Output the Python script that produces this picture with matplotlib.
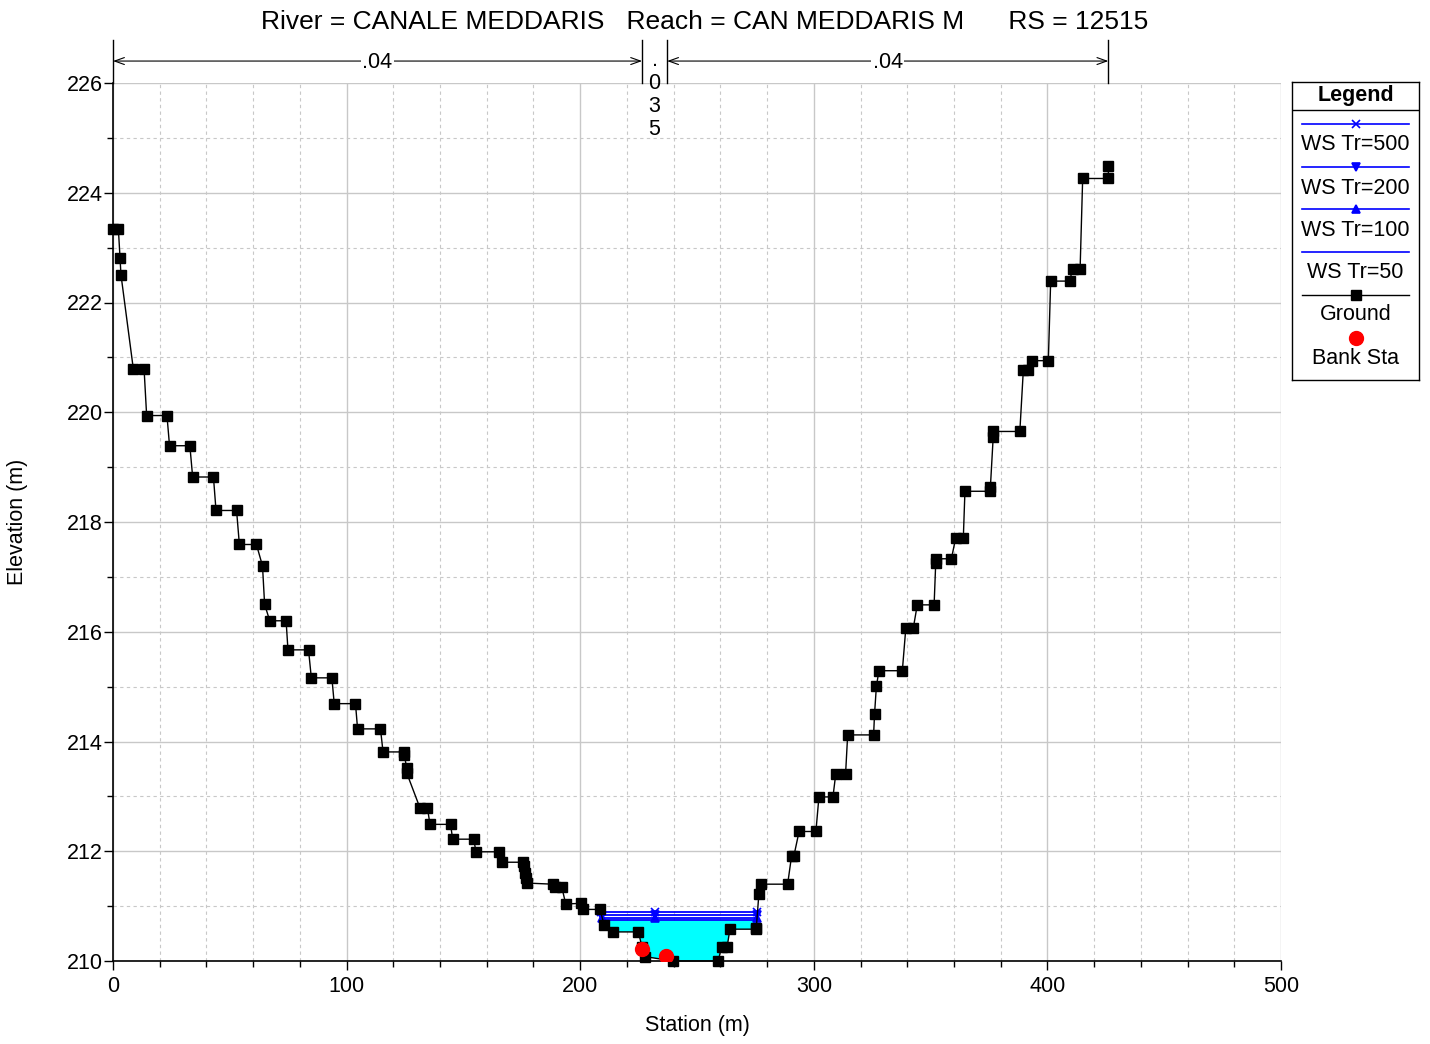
import numpy as np
import matplotlib.pyplot as plt
from matplotlib.ticker import MultipleLocator

plt.rcParams['font.family'] = ['Liberation Sans', 'DejaVu Sans']

# cross section ground points (station m, elevation m)
station = [0.0, 2.3, 3.0, 3.4, 8.7, 13.3, 14.4, 23.1, 24.2, 32.9,
           34.1, 43.0, 44.1, 52.9, 54.1, 61.4, 64.0, 64.9, 67.1, 74.1,
           74.9, 83.7, 84.9, 93.7, 94.7, 103.8, 104.7, 114.5, 115.6, 124.5,
           124.7, 125.7, 125.8, 131.4, 134.6, 135.7, 144.5, 145.4, 154.4, 155.4,
           165.2, 166.4, 175.6, 176.0, 176.4, 176.8, 177.3, 188.2, 189.1, 192.1,
           193.8, 200.2, 201.3, 208.5, 210.2, 213.9, 224.9, 226.5, 227.7, 239.9,
           259.1, 260.5, 262.9, 264.1, 275.3, 275.4, 276.5, 277.3, 288.8, 290.5,
           291.5, 293.7, 300.9, 302.2, 308.2, 309.4, 313.6, 314.5, 325.6, 326.0,
           326.8, 327.9, 337.9, 339.4, 342.6, 344.3, 351.5, 352.2, 352.3, 358.9,
           360.7, 364.0, 364.7, 375.4, 375.6, 376.8, 376.8, 388.2, 389.7, 391.8,
           393.3, 400.4, 401.4, 409.5, 410.8, 414.0, 415.1, 426.1, 426.1]
elevation = [223.34, 223.34, 222.82, 222.51, 220.79, 220.79, 219.94, 219.94, 219.39, 219.39,
             218.82, 218.82, 218.21, 218.21, 217.59, 217.59, 217.20, 216.50, 216.20, 216.20,
             215.67, 215.67, 215.16, 215.16, 214.69, 214.69, 214.23, 214.23, 213.81, 213.81,
             213.76, 213.52, 213.42, 212.79, 212.79, 212.49, 212.49, 212.22, 212.22, 211.99,
             211.99, 211.80, 211.80, 211.73, 211.61, 211.52, 211.42, 211.40, 211.35, 211.35,
             211.04, 211.05, 210.94, 210.94, 210.66, 210.53, 210.53, 210.25, 210.08, 210.00,
             210.00, 210.26, 210.26, 210.58, 210.58, 210.61, 211.23, 211.40, 211.40, 211.92,
             211.92, 212.36, 212.36, 212.99, 212.99, 213.41, 213.41, 214.12, 214.12, 214.50,
             215.01, 215.29, 215.29, 216.07, 216.07, 216.49, 216.49, 217.26, 217.33, 217.33,
             217.70, 217.70, 218.56, 218.56, 218.64, 219.55, 219.65, 219.65, 220.77, 220.77,
             220.94, 220.94, 222.39, 222.39, 222.61, 222.61, 224.26, 224.26, 224.49]

ws_labels = ['WS Tr=500', 'WS Tr=200', 'WS Tr=100', 'WS Tr=50']
ws_elev = [210.89, 210.84, 210.79, 210.74]
ws_markers = ['x', 'v', '^', None]

bank_sta = [226.6, 236.7]
bank_elev = [210.22, 210.09]

n_breaks = [0.0, 226.5, 237.2, 426.1]
n_values = ['.04', '.035', '.04']

title = 'River = CANALE MEDDARIS   Reach = CAN MEDDARIS M      RS = 12515'

st = np.array(station)
el = np.array(elevation)


def ws_extent(z):
    i = int(np.argmin(el))
    while el[i] < z:
        i -= 1
    xl = np.interp(z, [el[i + 1], el[i]], [st[i + 1], st[i]])
    j = int(np.argmin(el))
    while el[j] < z:
        j += 1
    xr = np.interp(z, [el[j - 1], el[j]], [st[j - 1], st[j]])
    return xl, xr, i, j


FS = 15.5
W, H = 1430, 1044
fig = plt.figure(figsize=(W / 100, H / 100), dpi=100)
ax = fig.add_axes([113 / W, 1 - 961 / H, (1281 - 113) / W, (961 - 83) / H])

# water fill (lowest profile)
xl, xr, i, j = ws_extent(ws_elev[-1])
ax.fill([xl] + list(st[i + 1:j]) + [xr], [ws_elev[-1]] + list(el[i + 1:j]) + [ws_elev[-1]],
        color='#00ffff', lw=0, zorder=1)

mid = (n_breaks[1] + n_breaks[2]) / 2
for z, m in zip(ws_elev, ws_markers):
    xl, xr, _, _ = ws_extent(z)
    ax.plot([xl, xr], [z, z], color='#0000ff', lw=1.3, zorder=2)
    if m:
        ax.plot([xl, mid, xr], [z, z, z], ls='none', marker=m, color='#0000ff',
                ms=6, mew=1.2, zorder=2)

ax.plot(st, el, color='black', lw=1, marker='s', ms=6.5, zorder=3, clip_on=False)
ax.plot(bank_sta, bank_elev, ls='none', marker='o', color='red', ms=10, zorder=4)

ax.set_xlim(0, 500)
ax.set_ylim(210, 226)
ax.xaxis.set_major_locator(MultipleLocator(100))
ax.xaxis.set_minor_locator(MultipleLocator(20))
ax.yaxis.set_major_locator(MultipleLocator(2))
ax.yaxis.set_minor_locator(MultipleLocator(1))
ax.grid(which='major', color='#c8c8c8', lw=1, ls='-')
ax.grid(which='minor', color='#c8c8c8', lw=0.8, ls=(0, (3, 3)))
ax.set_axisbelow(True)
ax.tick_params(which='major', direction='out', length=6.5, width=1, labelsize=FS)
ax.tick_params(axis='y', which='major', pad=1)
ax.tick_params(axis='x', which='major', pad=4)
ax.tick_params(which='minor', direction='out', length=4, width=1)
for s in ['top', 'right']:
    ax.spines[s].set_visible(False)
for s in ['left', 'bottom']:
    ax.spines[s].set_linewidth(1.2)

# manning n bar above the plot
for b in n_breaks:
    ax.plot([b, b], [226.0, 226.78], color='black', lw=1, clip_on=False)
for k, v in enumerate(n_values):
    a, b = n_breaks[k], n_breaks[k + 1]
    c = (a + b) / 2
    if b - a > 50:
        ax.annotate('', xy=(a, 226.40), xytext=(b, 226.40), annotation_clip=False,
                    arrowprops=dict(arrowstyle='<->,head_length=0.7,head_width=0.25',
                                    color='black', lw=0.8, shrinkA=0, shrinkB=0))
        ax.text(c, 226.38, v, ha='center', va='center', fontsize=FS, clip_on=False,
                bbox=dict(facecolor='white', edgecolor='none', pad=1))
    else:
        ax.text(c, 226.60, '\n'.join(v), ha='center', va='top', fontsize=FS,
                linespacing=1.13, clip_on=False)

fig.text(705 / W, 1 - 22 / H, title, ha='center', va='center', fontsize=19)
fig.text(697 / W, 1 - 1026 / H, 'Station (m)', ha='center', va='center', fontsize=FS)
fig.text(18 / W, 1 - 522 / H, 'Elevation (m)', ha='center', va='center', fontsize=FS, rotation=90)

# legend box
lg = fig.add_axes([1292 / W, 1 - 380 / H, 127 / W, 298 / H])
lg.set_xlim(0, 127)
lg.set_ylim(298, 0)
lg.set_xticks([])
lg.set_yticks([])
for s in lg.spines.values():
    s.set_linewidth(1)
lg.text(63.5, 14, 'Legend', ha='center', va='center', fontsize=FS, fontweight='bold')
lg.plot([0, 127], [28, 28], color='black', lw=1)
rows = [42, 85, 127, 170]
for y, lab, m in zip(rows, ws_labels, ws_markers):
    lg.plot([10, 117], [y, y], color='#0000ff', lw=1.2)
    if m:
        lg.plot([63.5], [y], marker=m, color='#0000ff', ms=6, mew=1.2)
    lg.text(63.5, y + 21, lab, ha='center', va='center', fontsize=FS)
lg.plot([10, 117], [213, 213], color='black', lw=1)
lg.plot([63.5], [213], marker='s', color='black', ms=6.5)
lg.text(63.5, 233, 'Ground', ha='center', va='center', fontsize=FS)
lg.plot([63.5], [256], marker='o', color='red', ms=10)
lg.text(63.5, 277, 'Bank Sta', ha='center', va='center', fontsize=FS)

fig.savefig('out.png', dpi=100)
